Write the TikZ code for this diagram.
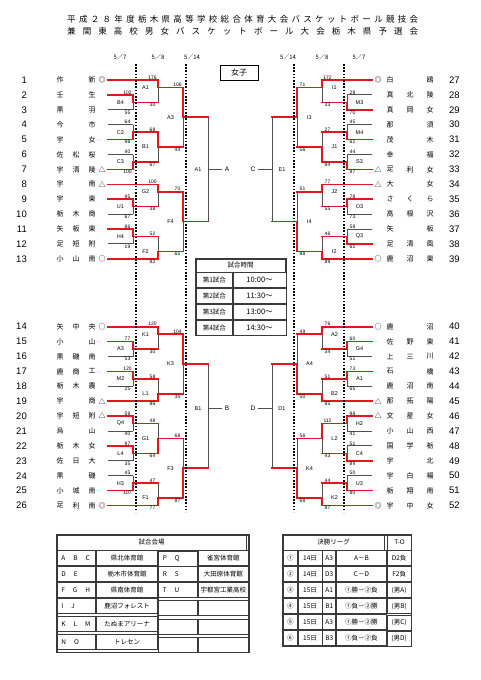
\documentclass[tikz,border=0pt]{standalone}
\usepackage{fontspec}
\setmainfont{Noto Sans CJK JP}
\newfontfamily\numfont{Liberation Sans}
\usetikzlibrary{matrix, backgrounds, positioning}
\definecolor{wred}{HTML}{E3161C}
\definecolor{lgrey}{HTML}{505050}
\definecolor{fgrey}{HTML}{3A3A3A}
\tikzset{
  every picture/.style={x=1pt, y=-1pt},
  win/.style={draw=wred, line width=1.6pt, line cap=rect},
  lose/.style={draw=lgrey, line width=0.9pt},
  daysep/.style={draw=black, line width=1.9pt, dash pattern=on 1.6pt off 1.6pt},
  headline/.style={font=\fontsize{8.5}{8.5}\selectfont, inner sep=0pt},
  datelab/.style={font=\fontsize{6}{6}\selectfont, inner sep=0pt},
  teamch/.style={font=\fontsize{7}{7}\selectfont, inner sep=0pt},
  seednum/.style={font=\numfont\fontsize{9.5}{9.5}\selectfont, inner sep=0pt},
  score/.style={font=\numfont\fontsize{5}{5}\selectfont, inner sep=0.6pt},
  gamelab/.style={font=\numfont\fontsize{5.5}{5.5}\selectfont, inner sep=0pt},
  pool/.style={font=\numfont\fontsize{6.5}{6.5}\selectfont, inner sep=2.5pt},
  cell/.style={draw=fgrey, line width=0.7pt, font=\fontsize{6.5}{6.5}\selectfont, inner sep=0pt, outer sep=0pt, minimum height=15pt},
  frame/.style={draw=fgrey, line width=1.6pt},
}

% bracket quadrant settings: side, row offset, name prefix
\newcommand\bside{1}
\newcommand\yoff{65.1}
\newcommand\qd{lt}
\newcommand\leftquad[2]{\def\bside{1}\def\yoff{#1}\def\qd{#2}%
  \def\xnum{27}\def\numanc{east}\def\xa{60}\def\xb{76}\def\xc{92}\def\xmk{102}}
\newcommand\rightquad[2]{\def\bside{-1}\def\yoff{#1}\def\qd{#2}%
  \def\xnum{449}\def\numanc{west}\def\xa{390}\def\xb{410}\def\xc{430}\def\xmk{378}}

% row, number, chars a/b/c, mark, first round, won first game
\newcommand\team[8]{%
  \pgfmathsetmacro\yy{\yoff+14.9*#1}%
  \pgfmathsetmacro\xs{240-(\bside)*132}%
  \pgfmathsetmacro\xe{240-(\bside)*(132-25*#7)}%
  \ifnum#8=1 \draw[win] (\xs,\yy) -- (\xe,\yy);
  \else \begin{scope}[on background layer]\draw[lose] (\xs,\yy) -- (\xe,\yy);\end{scope}\fi
  \node[seednum, anchor=\numanc] (t#2) at (\xnum,\yy) {#2};
  \node[teamch] (t#2-a) at (\xa,\yy) {#3};
  \node[teamch] (t#2-b) at (\xb,\yy) {#4};
  \node[teamch] (t#2-c) at (\xc,\yy) {#5};
  \node[teamch] (t#2-m) at (\xmk,\yy) {#6};
}

% round, top row, bottom row, out row, label, top score, bottom score, winner
\newcommand\game[8]{%
  \pgfmathsetmacro\xv{240-(\bside)*(132-25*#1)}%
  \pgfmathsetmacro\xn{\xv+(\bside)*25}%
  \pgfmathsetmacro\xg{\xv-(\bside)*12.5}%
  \pgfmathsetmacro\xsc{\xv-(\bside)*5.5}%
  \pgfmathsetmacro\yt{\yoff+14.9*#2}%
  \pgfmathsetmacro\yb{\yoff+14.9*#3}%
  \pgfmathsetmacro\yo{\yoff+14.9*#4}%
  \ifnum#8=1
    \draw[win] (\xv,\yt) -- (\xv,\yo);
    \begin{scope}[on background layer]\draw[lose] (\xv,\yo) -- (\xv,\yb);\end{scope}
  \else
    \draw[win] (\xv,\yb) -- (\xv,\yo);
    \begin{scope}[on background layer]\draw[lose] (\xv,\yo) -- (\xv,\yt);\end{scope}
  \fi
  \draw[win] (\xv,\yo) -- (\xn,\yo);
  \node[gamelab] (\qd-#5) at (\xg,\yo) {#5};
  \node[score, anchor=south] (\qd-#5-t) at (\xsc,\yt) {#6};
  \node[score, anchor=north] (\qd-#5-b) at (\xsc,\yb) {#7};
}

% 5/14 game: label, pool letter, out row
\newcommand\final[3]{%
  \pgfmathsetmacro\xv{240-(\bside)*32}%
  \pgfmathsetmacro\yt{\yoff+14.9*3.5}%
  \pgfmathsetmacro\yb{\yoff+14.9*10.5}%
  \pgfmathsetmacro\yo{\yoff+14.9*#3}%
  \pgfmathsetmacro\xg{\xv-(\bside)*10}%
  \pgfmathsetmacro\xp{\xv+(\bside)*19}%
  \begin{scope}[on background layer]\draw[lose] (\xv,\yt) -- (\xv,\yb);\end{scope}
  \node[gamelab] (\qd-#1) at (\xg,\yo) {#1};
  \node[pool] (pool-#2) at (\xp,\yo) {#2};
  \draw[lose] (\xv,\yo) -- (pool-#2);
}

\begin{document}
\begin{tikzpicture}
  \useasboundingbox (0,0) rectangle (481,680);

  % title
  \node[headline, anchor=west] (title1) at (67,19) {\makebox[351pt][s]{平 成 ２ ８ 年 度 栃 木 県 高 等 学 校 総 合 体 育 大 会 バ ス ケ ッ ト ボ ー ル 競 技 会}};
  \node[headline, anchor=west] (title2) at (67,31) {\makebox[351pt][s]{兼 関 東 高 校 男 女 バ ス ケ ッ ト ボ ー ル 大 会 栃 木 県 予 選 会}};

  % days
  \foreach \x/\d in {120/5／7, 158/5／8, 192/5／14, 288/5／14, 322/5／8, 359/5／7}
    \node[datelab] (day-\x) at (\x,57) {\d};
  \node[draw=black, line width=1pt, minimum width=38pt, minimum height=15pt, inner sep=0pt, font=\fontsize{8}{8}\selectfont] (girls) at (239,72.5) {女子};

  % upper left
  \leftquad{65.1}{lt}
  \foreach \rw/\no/\ca/\cb/\cc/\mk/\rd/\wn in {
    1/1/作//新/◎/2/1, 2/2/壬//生//1/1, 3/3/黒//羽//1/0, 4/4/今//市//1/0,
    5/5/宇//女//1/1, 6/6/佐/松/桜//1/0, 7/7/宇/清/陵/△/1/1, 8/8/宇//南/△/2/1,
    9/9/宇//東//1/1, 10/10/栃/木/商//1/0, 11/11/矢/板/東//1/1, 12/12/足/短/附//1/0,
    13/13/小/山/南/○/2/1}
    {\team{\rw}{\no}{\ca}{\cb}{\cc}{\mk}{\rd}{\wn}}
  \foreach \rd/\rt/\rb/\ro/\lab/\st/\sb/\wn in {
    1/2/3/2.5/B4/102/55/1, 1/4/5/4.5/C2/64/98/2, 1/6/7/6.5/C3/40/100/2,
    1/9/10/9.5/U1/95/67/1, 1/11/12/11.5/H4/86/19/1,
    2/1/2.5/1.5/A1/176/30/1, 2/4.5/6.5/5.5/B1/68/67/1,
    2/8/9.5/8.5/G2/100/38/1, 2/11.5/13/12.5/F2/52/82/2,
    3/1.5/5.5/3.5/A3/106/44/1, 3/8.5/12.5/10.5/F4/70/65/1}
    {\game{\rd}{\rt}{\rb}{\ro}{\lab}{\st}{\sb}{\wn}}
  \final{A1}{A}{7}

  % upper right
  \rightquad{65.1}{rt}
  \foreach \rw/\no/\ca/\cb/\cc/\mk/\rd/\wn in {
    1/27/白//鴎/◎/2/1, 2/28/真/北/陵//1/0, 3/29/真/岡/女//1/1, 4/30/那//須//1/0,
    5/31/茂//木//1/1, 6/32/幸//福//1/0, 7/33/足/利/女/△/1/1, 8/34/大//女/△/2/1,
    9/35/さ/く/ら//1/1, 10/36/高/根/沢//1/0, 11/37/矢//板//1/0, 12/38/足/清/風//1/1,
    13/39/鹿/沼/東/○/2/1}
    {\team{\rw}{\no}{\ca}{\cb}{\cc}{\mk}{\rd}{\wn}}
  \foreach \rd/\rt/\rb/\ro/\lab/\st/\sb/\wn in {
    1/2/3/2.5/M3/29/70/2, 1/4/5/4.5/M4/45/61/2, 1/6/7/6.5/S3/44/97/2,
    1/9/10/9.5/O3/78/73/1, 1/11/12/11.5/Q3/58/61/2,
    2/1/2.5/1.5/I1/172/33/1, 2/4.5/6.5/5.5/J1/27/84/2,
    2/8/9.5/8.5/J2/77/55/1, 2/11.5/13/12.5/I2/46/89/2,
    3/1.5/5.5/3.5/I3/71/56/1, 3/8.5/12.5/10.5/I4/51/88/2}
    {\game{\rd}{\rt}{\rb}{\ro}{\lab}{\st}{\sb}{\wn}}
  \final{E1}{C}{7}

  % lower left
  \leftquad{311.8}{lb}
  \foreach \rw/\no/\ca/\cb/\cc/\mk/\rd/\wn in {
    1/14/矢/中/央/○/2/1, 2/15/小//山//1/1, 3/16/黒/磯/南//1/0, 4/17/鹿/商/工//1/1,
    5/18/栃/木/農//1/0, 6/19/宇//商/△/2/1, 7/20/宇/短/附/△/1/1, 8/21/烏//山//1/0,
    9/22/栃/木/女//1/1, 10/23/佐/日/大//1/0, 11/24/黒//磯//1/0, 12/25/小/城/南//1/1,
    13/26/足/利/南/◎/2/1}
    {\team{\rw}{\no}{\ca}{\cb}{\cc}{\mk}{\rd}{\wn}}
  \foreach \rd/\rt/\rb/\ro/\lab/\st/\sb/\wn in {
    1/2/3/2.5/A3/77/53/1, 1/4/5/4.5/M2/120/25/1, 1/7/8/7.5/Q4/59/40/1,
    1/9/10/9.5/L4/97/35/1, 1/11/12/11.5/H3/45/107/2,
    2/1/2.5/1.5/K1/120/30/1, 2/4.5/6/5.5/L1/58/86/2,
    2/7.5/9.5/8.5/G1/48/64/2, 2/11.5/13/12.5/F1/47/77/2,
    3/1.5/5.5/3.5/K3/104/35/1, 3/8.5/12.5/10.5/F3/68/87/2}
    {\game{\rd}{\rt}{\rb}{\ro}{\lab}{\st}{\sb}{\wn}}
  \final{B1}{B}{6.5}

  % lower right
  \rightquad{311.8}{rb}
  \foreach \rw/\no/\ca/\cb/\cc/\mk/\rd/\wn in {
    1/40/鹿//沼/○/2/1, 2/41/佐/野/東//1/1, 3/42/上/三/川//1/0, 4/43/石//橋//1/1,
    5/44/鹿/沼/南//1/0, 6/45/那/拓/陽/△/2/1, 7/46/文/星/女/△/1/1, 8/47/小/山/西//1/0,
    9/48/国/学/栃//1/0, 10/49/宇//北//1/1, 11/50/宇/白/楊//1/0, 12/51/栃/翔/南//1/1,
    13/52/宇/中/女/◎/2/1}
    {\team{\rw}{\no}{\ca}{\cb}{\cc}{\mk}{\rd}{\wn}}
  \foreach \rd/\rt/\rb/\ro/\lab/\st/\sb/\wn in {
    1/2/3/2.5/G4/60/51/1, 1/4/5/4.5/A1/73/65/1, 1/7/8/7.5/H2/98/41/1,
    1/9/10/9.5/C4/51/84/2, 1/11/12/11.5/U3/50/80/2,
    2/1/2.5/1.5/A2/76/34/1, 2/4.5/6/5.5/B2/51/85/2,
    2/7.5/9.5/8.5/L2/112/43/1, 2/11.5/13/12.5/K2/44/87/2,
    3/1.5/5.5/3.5/A4/49/50/2, 3/8.5/12.5/10.5/K4/56/68/2}
    {\game{\rd}{\rt}{\rb}{\ro}{\lab}{\st}{\sb}{\wn}}
  \final{D1}{D}{6.5}

  % day separators
  \foreach \x in {136, 186, 294, 344}
    \draw[daysep] (\x,64) -- (\x,512);

  % match times
  \matrix (sched) [matrix of nodes, anchor=north west, inner sep=0pt, outer sep=0pt,
    column sep=0pt, row sep=0pt, nodes={cell},
    column 1/.style={nodes={minimum width=36pt}},
    column 2/.style={nodes={minimum width=53pt, font=\fontsize{7.5}{7.5}\selectfont}}] at (196,272) {
    第1試合 & 10:00～ \\
    第2試合 & 11:30～ \\
    第3試合 & 13:00～ \\
    第4試合 & 14:30～ \\
  };
  \node[cell, minimum width=89pt, minimum height=13pt, anchor=south west] (schedhead) at (sched.north west) {試合時間};
  \draw[frame] (schedhead.north west) rectangle (sched.south east);

  % venues
  \matrix (venue) [matrix of nodes, nodes in empty cells, anchor=north west, inner sep=0pt, outer sep=0pt,
    column sep=0pt, row sep=0pt, nodes={cell},
    column 1/.style={nodes={minimum width=38pt, text width=30pt, align=left}},
    column 2/.style={nodes={minimum width=62pt}},
    column 3/.style={nodes={minimum width=39pt, text width=31pt, align=left}},
    column 4/.style={nodes={minimum width=50pt}}] at (57,550) {
    A\hspace{8pt}B\hspace{8pt}C & 県北体育館 & P\hspace{8pt}Q & 雀宮体育館 \\
    D\hspace{8pt}E & 栃木市体育館 & R\hspace{8pt}S & 大田原体育館 \\
    F\hspace{8pt}G\hspace{8pt}H & 県南体育館 & T\hspace{8pt}U & 宇都宮工業高校 \\
    I\hspace{8pt}J & 鹿沼フォレスト & & \\
    K\hspace{8pt}L\hspace{8pt}M & たぬまアリーナ & & \\
    N\hspace{8pt}O & トレセン & & \\
  };
  \node[cell, minimum width=189pt, anchor=south west] (venuehead) at (venue.north west) {試合会場};
  \draw[frame] (venuehead.north west) rectangle (venue.south east);
  \draw[frame, line width=1.2pt] (venue-1-2.north east) -- (venue-6-2.south east);

  % final league
  \matrix (league) [matrix of nodes, anchor=north west, inner sep=0pt, outer sep=0pt,
    column sep=0pt, row sep=0pt, nodes={cell},
    column 1/.style={nodes={minimum width=14pt}},
    column 2/.style={nodes={minimum width=24pt}},
    column 3/.style={nodes={minimum width=13pt}},
    column 4/.style={nodes={minimum width=50pt}},
    column 5/.style={nodes={minimum width=24pt}}] at (283,550) {
    ① & 14日 & A3 & A－B & D2負 \\
    ② & 14日 & D3 & C－D & F2負 \\
    ③ & 15日 & A1 & ①勝－②負 & (男A) \\
    ④ & 15日 & B1 & ①負－②勝 & (男B) \\
    ⑤ & 15日 & A3 & ①勝－②勝 & (男C) \\
    ⑥ & 15日 & B3 & ①負－②負 & (男D) \\
  };
  \node[cell, minimum width=101pt, anchor=south west] (leaguehead) at (league.north west) {決勝リーグ};
  \node[cell, minimum width=24pt, anchor=south east] (tohead) at (league.north east) {T-O};
  \draw[frame] (leaguehead.north west) rectangle (league.south east);
\end{tikzpicture}
\end{document}
